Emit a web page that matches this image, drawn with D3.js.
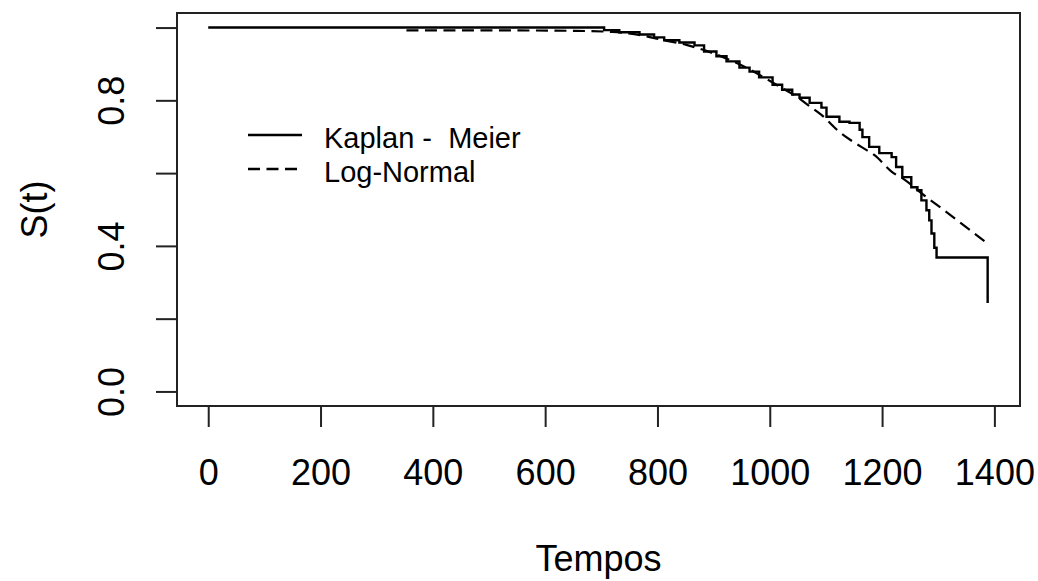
<!DOCTYPE html>
<html>
<head>
<meta charset="utf-8">
<script src="https://cdn.jsdelivr.net/npm/d3@7"></script>
<style>
  body { margin: 0; background: #fff; }
  text { font-family: "Liberation Sans", Arial, sans-serif; fill: #000; }
</style>
</head>
<body>
<div id="chart"></div>
<script>
// Kaplan-Meier estimate (step function)
const kmTimes = [0, 705, 732, 768, 794, 812, 839, 866, 883, 905, 923, 946, 964, 981, 1005, 1022, 1040,
  1053, 1071, 1092, 1101, 1124, 1142, 1160, 1165, 1177, 1195, 1217, 1225, 1236, 1252, 1263, 1270,
  1279, 1284, 1288, 1293, 1297, 1388];
const kmSurv = [1.0, 0.993, 0.987, 0.981, 0.973, 0.965, 0.959, 0.951, 0.934, 0.921, 0.907, 0.890, 0.879,
  0.863, 0.843, 0.829, 0.816, 0.807, 0.793, 0.780, 0.755, 0.741, 0.738, 0.719, 0.699, 0.672, 0.655,
  0.644, 0.617, 0.589, 0.561, 0.553, 0.525, 0.498, 0.470, 0.434, 0.395, 0.368, 0.243];

// fitted Log-Normal survival curve
const lnTimes = [353, 450, 550, 650, 720, 770, 809, 850, 898, 958, 1017, 1050, 1070, 1092, 1124, 1163,
  1186, 1218, 1236, 1279, 1306, 1388];
const lnSurv = [0.992, 0.992, 0.992, 0.991, 0.988, 0.979, 0.966, 0.953, 0.930, 0.890, 0.838, 0.808,
  0.785, 0.760, 0.713, 0.672, 0.650, 0.603, 0.586, 0.534, 0.503, 0.406];

const xTicks = [0, 200, 400, 600, 800, 1000, 1200, 1400];
const yTicks = [0, 0.2, 0.4, 0.6, 0.8, 1.0];
const yTickLabels = ["0.0", "", "0.4", "", "0.8", ""];
const legendLabels = ["Kaplan -  Meier", "Log-Normal"];

const width = 1038, height = 581;
const plotLeft = 177, plotRight = 1020, plotTop = 13, plotBottom = 406;
const axisFont = 36, legendFont = 29;

const svg = d3.select("#chart").append("svg")
  .attr("width", width)
  .attr("height", height);

// R style: 4% padding around the data range
const x = d3.scaleLinear().domain([-55.6, 1445.6]).range([plotLeft, plotRight]);
const y = d3.scaleLinear().domain([-0.04, 1.04]).range([plotBottom, plotTop]);

const km = kmTimes.map((t, i) => [t, kmSurv[i]]);
const ln = lnTimes.map((t, i) => [t, lnSurv[i]]);

svg.append("path")
  .datum(ln)
  .attr("fill", "none")
  .attr("stroke", "#000")
  .attr("stroke-width", 2.2)
  .attr("stroke-dasharray", "12,6.5")
  .attr("d", d3.line().x(d => x(d[0])).y(d => y(d[1])).curve(d3.curveMonotoneX));

svg.append("path")
  .datum(km)
  .attr("fill", "none")
  .attr("stroke", "#000")
  .attr("stroke-width", 2.4)
  .attr("d", d3.line().x(d => x(d[0])).y(d => y(d[1])).curve(d3.curveStepAfter));

// plot box
svg.append("rect")
  .attr("x", plotLeft).attr("y", plotTop)
  .attr("width", plotRight - plotLeft).attr("height", plotBottom - plotTop)
  .attr("fill", "none")
  .attr("stroke", "#222")
  .attr("stroke-width", 2);

// x axis
const xAxis = svg.append("g")
  .attr("transform", `translate(0,${plotBottom})`)
  .call(d3.axisBottom(x).tickValues(xTicks).tickSize(21).tickFormat(d3.format("d")));
xAxis.select(".domain").remove();
xAxis.selectAll("line").attr("stroke", "#222").attr("stroke-width", 2);
xAxis.selectAll("text")
  .attr("y", 79).attr("dy", null)
  .attr("fill", "#000")
  .style("font-size", axisFont + "px");

// y axis
const yAxis = svg.append("g")
  .attr("transform", `translate(${plotLeft},0)`)
  .call(d3.axisLeft(y).tickValues(yTicks).tickSize(21).tickFormat((d, i) => yTickLabels[i]));
yAxis.select(".domain").remove();
yAxis.selectAll("line").attr("stroke", "#222").attr("stroke-width", 2);
yAxis.selectAll("text")
  .attr("x", 0).attr("y", -53).attr("dy", null)
  .attr("transform", "rotate(-90)")
  .attr("text-anchor", "middle")
  .attr("fill", "#000")
  .style("font-size", axisFont + "px");

// axis titles
svg.append("text")
  .attr("x", (plotLeft + plotRight) / 2).attr("y", 571)
  .attr("text-anchor", "middle")
  .style("font-size", axisFont + "px")
  .text("Tempos");

svg.append("text")
  .attr("transform", `translate(47,${(plotTop + plotBottom) / 2}) rotate(-90)`)
  .attr("text-anchor", "middle")
  .style("font-size", axisFont + "px")
  .text("S(t)");

// legend
const legend = svg.append("g");
const legendRows = [
  { label: legendLabels[0], y: 135, dash: null, x2: 302 },
  { label: legendLabels[1], y: 169, dash: "12,6.5", x2: 297 }
];
legendRows.forEach(r => {
  legend.append("line")
    .attr("x1", 248).attr("x2", r.x2)
    .attr("y1", r.y).attr("y2", r.y)
    .attr("stroke", "#000")
    .attr("stroke-width", 2.4)
    .attr("stroke-dasharray", r.dash);
  legend.append("text")
    .attr("x", 324).attr("y", r.y + 13)
    .style("font-size", legendFont + "px")
    .style("white-space", "pre")
    .text(r.label);
});
</script>
</body>
</html>
